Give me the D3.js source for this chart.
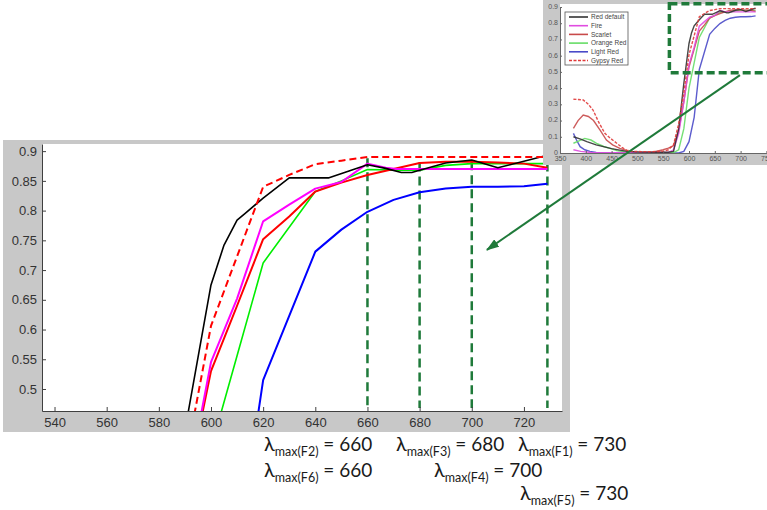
<!DOCTYPE html>
<html><head><meta charset="utf-8">
<script src="https://cdn.jsdelivr.net/npm/d3@7"></script>
<style>body{margin:0;background:#fff}svg{display:block}</style>
</head><body>
<svg id="c" width="767" height="510"></svg>
<script>
// ---------------- DATA ----------------
const seriesNames = ["Red default", "Fire", "Scarlet", "Orange Red", "Light Red", "Gypsy Red"];
// [wavelength (nm), reflectance]
const redDefault = [[376,0.10],[390,0.085],[402,0.07],[420,0.05],[434,0.039],[450,0.027],[466,0.018],[480,0.01],[500,0.006],[540,0.005],[560,0.005],[570,0.01],[580,0.15],[590,0.43],[600,0.675],[605,0.742],[610,0.784],[613,0.795],[620,0.821],[630,0.855],[645,0.855],[660,0.877],[667,0.871],[673,0.864],[677,0.864],[680,0.868],[690,0.88],[700,0.885],[710,0.872],[720,0.883],[729,0.893]];
const fire = [[376,0.02],[390,0.01],[410,0.003],[450,0.002],[560,0.003],[570,0.02],[580,0.12],[590,0.315],[600,0.545],[610,0.652],[620,0.782],[630,0.81],[640,0.837],[650,0.848],[660,0.879],[667,0.872],[671,0.87],[690,0.87],[710,0.87],[729,0.87]];
const scarlet = [[376,0.152],[385,0.2],[395,0.234],[405,0.225],[415,0.2],[428,0.14],[440,0.08],[452,0.05],[466,0.029],[485,0.01],[500,0.005],[530,0.005],[550,0.02],[560,0.03],[570,0.045],[580,0.14],[590,0.316],[600,0.53],[610,0.64],[620,0.752],[630,0.79],[640,0.832],[650,0.847],[660,0.86],[670,0.87],[680,0.88],[690,0.882],[700,0.882],[710,0.881],[720,0.879],[729,0.872]];
const orangeRed = [[376,0.06],[387,0.075],[398,0.09],[410,0.08],[421,0.06],[435,0.04],[447,0.029],[460,0.015],[480,0.005],[500,0.002],[570,0.002],[580,0.02],[590,0.15],[600,0.40],[610,0.556],[620,0.712],[640,0.832],[650,0.85],[660,0.869],[672,0.868],[680,0.868],[690,0.876],[700,0.879],[729,0.879]];
const lightRed = [[376,0.121],[382,0.08],[389,0.039],[398,0.02],[408,0.01],[420,0.003],[450,0.0],[580,0.0],[590,0.01],[600,0.07],[610,0.22],[620,0.515],[640,0.731],[650,0.768],[660,0.798],[670,0.818],[680,0.831],[690,0.837],[700,0.84],[710,0.84],[720,0.841],[729,0.845]];
const gypsyRed = [[376,0.331],[385,0.33],[395,0.327],[405,0.3],[414,0.265],[425,0.19],[437,0.121],[448,0.09],[460,0.06],[470,0.035],[479,0.018],[490,0.01],[520,0.008],[550,0.01],[560,0.02],[570,0.05],[580,0.18],[590,0.373],[600,0.606],[620,0.84],[630,0.86],[640,0.878],[650,0.884],[660,0.89],[729,0.89]];
const seriesData = [redDefault, fire, scarlet, orangeRed, lightRed, gypsyRed];

const xTicks = [540, 560, 580, 600, 620, 640, 660, 680, 700, 720];
const yTicks = [0.5, 0.55, 0.6, 0.65, 0.7, 0.75, 0.8, 0.85, 0.9];
const yTickLabels = ["0.5", "0.55", "0.6", "0.65", "0.7", "0.75", "0.8", "0.85", "0.9"];
const insetXTicks = [350, 400, 450, 500, 550, 600, 650, 700, 750];
const insetYTicks = [0, 0.1, 0.2, 0.3, 0.4, 0.5, 0.6, 0.7, 0.8, 0.9];
const insetYTickLabels = ["0", "0.1", "0.2", "0.3", "0.4", "0.5", "0.6", "0.7", "0.8", "0.9"];

// lambda-max markers
const markWavelengths = [660, 680, 700, 729];
const markTops = [0.888, 0.881, 0.883, 0.881];
const markBottom = 0.468;

// zoom box in inset (data coords) and arrow (inset start -> main end)
const zoomBoxX = [562, 760];
const zoomBoxY = [0.495, 0.92];
const arrowStartInset = [698.8, 0.48];
const arrowEndMain = [705.8, 0.734];

// annotation text
const lambdaSubs = ["max(F2)", "max(F3)", "max(F1)", "max(F6)", "max(F4)", "max(F5)"];
const lambdaVals = [660, 680, 730, 660, 700, 730];

// ---------------- STYLE / LAYOUT ----------------
const mainColors = ["#000000", "#ff00ff", "#ff0000", "#00ee00", "#0000ff", "#ff0000"];
const mainWidths = [1.6, 2, 2, 1.6, 2, 2];
const insetColors = ["#333333", "#e04ce0", "#c84a4a", "#66dd66", "#4a4ac8", "#e03a3a"];
const dashes = [null, null, null, null, null, "7,4"];
const labelPos = [[264, 451], [396, 451], [518, 451], [264, 477], [434, 477], [520, 500]];
const GRAY = "#c8c8c8";
const DKGREEN = "#1f7a3a";

const svg = d3.select("#c");
const defs = svg.append("defs");

// ================= MAIN CHART =================
svg.append("rect").attr("x", 3).attr("y", 140).attr("width", 567).attr("height", 292).attr("fill", GRAY);
svg.append("rect").attr("x", 42).attr("y", 144).attr("width", 520).attr("height", 267).attr("fill", "#fff");

const x = d3.scaleLinear().domain([535.2, 734.6]).range([42, 562]);
const y = d3.scaleLinear().domain([0.463, 0.912]).range([411, 144]);

defs.append("clipPath").attr("id", "mainClip").append("rect")
  .attr("x", 42).attr("y", 144).attr("width", 520).attr("height", 267);

const line = d3.line().x(d => x(d[0])).y(d => y(d[1]));
const gMain = svg.append("g").attr("clip-path", "url(#mainClip)");

// vertical dashed markers
gMain.selectAll("line.mark").data(markWavelengths).join("line")
  .attr("class", "mark")
  .attr("x1", d => x(d)).attr("x2", d => x(d))
  .attr("y1", (d, i) => y(markTops[i])).attr("y2", y(markBottom))
  .attr("stroke", DKGREEN).attr("stroke-width", 2.5).attr("stroke-dasharray", "9,5");

const drawOrder = [4, 3, 2, 1, 0, 5];
drawOrder.forEach(i => {
  gMain.append("path").datum(seriesData[i])
    .attr("d", line).attr("fill", "none")
    .attr("stroke", mainColors[i]).attr("stroke-width", mainWidths[i])
    .attr("stroke-dasharray", dashes[i]).attr("stroke-linejoin", "round");
});

const axisColor = "#404040";
const gx = svg.append("g").attr("transform", "translate(0,411)")
  .call(d3.axisBottom(x).tickValues(xTicks).tickSize(-4).tickSizeOuter(0).tickPadding(7).tickFormat(d3.format("d")));
const gy = svg.append("g").attr("transform", "translate(42,0)")
  .call(d3.axisLeft(y).tickValues(yTicks).tickSize(-4).tickSizeOuter(0).tickPadding(5)
    .tickFormat((d, i) => yTickLabels[i]));
[gx, gy].forEach(g => {
  g.select(".domain").attr("stroke", axisColor);
  g.selectAll(".tick line").attr("stroke", axisColor);
  g.selectAll(".tick text").attr("fill", "#333").style("font-family", "'Liberation Sans', Arial, sans-serif").style("font-size", "13px");
});

// ================= INSET =================
svg.append("rect").attr("x", 543).attr("y", 0).attr("width", 224).attr("height", 165).attr("fill", GRAY);
svg.append("rect").attr("x", 560).attr("y", 4).attr("width", 207).attr("height", 149).attr("fill", "#fff");

const xi = d3.scaleLinear().domain([350, 750]).range([560, 766.4]);
const yi = d3.scaleLinear().domain([0, 0.9]).range([153, 7]);
defs.append("clipPath").attr("id", "insetClip").append("rect")
  .attr("x", 560).attr("y", 4).attr("width", 207).attr("height", 149);
const lineI = d3.line().x(d => xi(d[0])).y(d => yi(d[1]));
const gIn = svg.append("g").attr("clip-path", "url(#insetClip)");
drawOrder.forEach(i => {
  gIn.append("path").datum(seriesData[i])
    .attr("d", lineI).attr("fill", "none")
    .attr("stroke", insetColors[i]).attr("stroke-width", 1.4)
    .attr("stroke-dasharray", dashes[i] ? "3,1.5" : null).attr("opacity", 0.9);
});

const gxi = svg.append("g").attr("transform", "translate(0,153)")
  .call(d3.axisBottom(xi).tickValues(insetXTicks).tickSize(-2).tickSizeOuter(0).tickPadding(3).tickFormat(d3.format("d")));
const gyi = svg.append("g").attr("transform", "translate(560,0)")
  .call(d3.axisLeft(yi).tickValues(insetYTicks).tickSize(-2).tickSizeOuter(0).tickPadding(2)
    .tickFormat((d, i) => insetYTickLabels[i]));
[gxi, gyi].forEach(g => {
  g.select(".domain").attr("stroke", "#666");
  g.selectAll(".tick line").attr("stroke", "#666");
  g.selectAll(".tick text").attr("fill", "#555").style("font-family", "'Liberation Sans', Arial, sans-serif").style("font-size", "7px");
});
gyi.selectAll(".tick text").attr("dy", "0.2em");

// inset legend
const leg = svg.append("g");
leg.append("rect").attr("x", 565).attr("y", 12).attr("width", 63).attr("height", 53)
  .attr("fill", "#fff").attr("stroke", "#555").attr("stroke-width", 0.8);
seriesNames.forEach((n, i) => {
  const yy = 17 + i * 8.7;
  leg.append("line").attr("x1", 569).attr("x2", 588).attr("y1", yy).attr("y2", yy)
    .attr("stroke", insetColors[i]).attr("stroke-width", 1.6)
    .attr("stroke-dasharray", dashes[i] ? "3,1.5" : null);
  leg.append("text").attr("x", 591).attr("y", yy + 2.3).text(n)
    .attr("fill", "#444").style("font-family", "'Liberation Sans', Arial, sans-serif").style("font-size", "6.5px");
});

// zoom box
svg.append("rect")
  .attr("x", xi(zoomBoxX[0])).attr("y", yi(zoomBoxY[1]))
  .attr("width", xi(zoomBoxX[1]) - xi(zoomBoxX[0])).attr("height", yi(zoomBoxY[0]) - yi(zoomBoxY[1]))
  .attr("fill", "none").attr("stroke", DKGREEN).attr("stroke-width", 3.5).attr("stroke-dasharray", "8,4");

// ================= ARROW =================
defs.append("marker").attr("id", "ah").attr("markerUnits", "userSpaceOnUse")
  .attr("markerWidth", 13).attr("markerHeight", 9).attr("refX", 12).attr("refY", 4.5)
  .attr("orient", "auto")
  .append("path").attr("d", "M0,0L13,4.5L0,9Z").attr("fill", DKGREEN);
svg.append("line")
  .attr("x1", xi(arrowStartInset[0])).attr("y1", yi(arrowStartInset[1]))
  .attr("x2", x(arrowEndMain[0])).attr("y2", y(arrowEndMain[1]))
  .attr("stroke", DKGREEN).attr("stroke-width", 2).attr("marker-end", "url(#ah)");

// ================= LAMBDA LABELS =================
const fontL = "Lato, 'Open Sans', sans-serif";
lambdaSubs.forEach((s, i) => {
  const t = svg.append("text").attr("x", labelPos[i][0]).attr("y", labelPos[i][1])
    .attr("fill", "#1a1a1a").style("font-family", fontL);
  t.append("tspan").text("λ").style("font-size", "20px");
  t.append("tspan").text(s).style("font-size", "12.5px").attr("dy", 5);
  t.append("tspan").text(" = " + lambdaVals[i]).style("font-size", "19px").attr("dy", -5);
});
</script>
</body></html>
